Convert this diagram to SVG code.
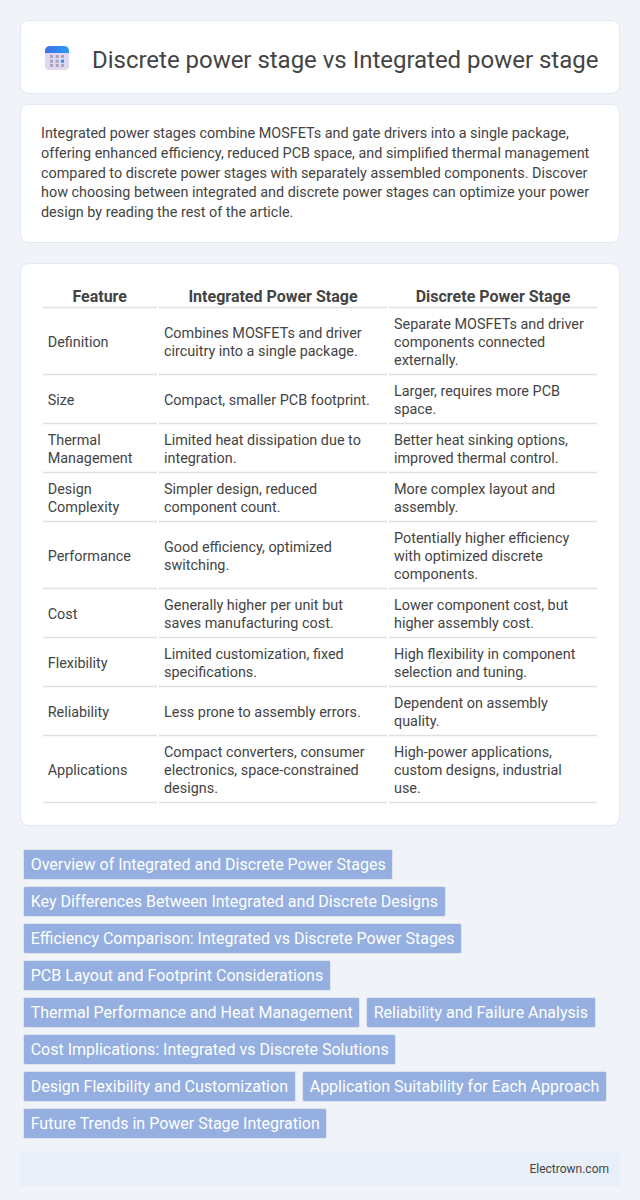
<svg xmlns="http://www.w3.org/2000/svg" width="640" height="1200" viewBox="0 0 640 1200">
<defs><linearGradient id="ic" x1="0" y1="0" x2="1" y2="0"><stop offset="0" stop-color="#3f6fe8"/><stop offset="1" stop-color="#2a9df4"/></linearGradient></defs>
<style>
text{font-family:Roboto,"Liberation Sans",sans-serif;fill:#444}
.card{fill:#fff;stroke:#e2e8f3;stroke-width:1}
.b{font-size:14.4px}
.c{font-size:14.4px;fill:#444}
.h{font-size:16px;font-weight:700;text-anchor:middle}
.l{stroke:#e0e0e0;stroke-width:1.5;fill:none}
.tr{fill:#94afe0;stroke:#dfe3ec;stroke-width:1}
.t{font-size:16px;fill:#fff}
.d{fill:#a9a3bd}
</style>
<rect width="640" height="1200" fill="#f0f4f9"/>
<g id="header">
<rect class="card" x="20.5" y="20.5" width="599" height="73" rx="8"/>
<rect x="45" y="46" width="24" height="24" rx="4" fill="#e0d8ee"/>
<path d="M45 51a5 5 0 0 1 5-5h14a5 5 0 0 1 5 5v2H45z" fill="url(#ic)"/>
<g class="d"><rect x="50" y="55" width="3" height="3"/><rect x="55.7" y="55" width="3" height="3"/><rect x="61" y="55" width="3" height="3"/><rect x="50" y="59.7" width="3" height="3"/><rect x="55.7" y="59.7" width="3" height="3"/><rect x="61" y="59.7" width="3" height="3" fill="#2a8df4"/><rect x="50" y="64" width="3" height="3"/><rect x="55.7" y="64" width="3" height="3"/><rect x="61" y="64" width="3" height="3"/></g>
<text x="92" y="68" font-size="24" letter-spacing="-0.02">Discrete power stage vs Integrated power stage</text>
</g>
<g id="intro">
<rect class="card" x="20.5" y="104.5" width="599" height="138" rx="8"/>
<text class="b" x="41" y="138">Integrated power stages combine MOSFETs and gate drivers into a single package,</text>
<text class="b" x="41" y="158">offering enhanced efficiency, reduced PCB space, and simplified thermal management</text>
<text class="b" x="41" y="178">compared to discrete power stages with separately assembled components. Discover</text>
<text class="b" x="41" y="197">how choosing between integrated and discrete power stages can optimize your power</text>
<text class="b" x="41" y="217">design by reading the rest of the article.</text>
</g>
<g id="table">
<rect class="card" x="20.5" y="263.5" width="599" height="562" rx="8"/>
<text class="h" x="99.7" y="302">Feature</text><text class="h" x="273" y="302">Integrated Power Stage</text><text class="h" x="493" y="302">Discrete Power Stage</text>
<path class="l" d="M43 307.5H157M159 307.5H387M389 307.5H597M43 374.5H157M159 374.5H387M389 374.5H597M43 423.5H157M159 423.5H387M389 423.5H597M43 472.5H157M159 472.5H387M389 472.5H597M43 521.5H157M159 521.5H387M389 521.5H597M43 588.5H157M159 588.5H387M389 588.5H597M43 637.5H157M159 637.5H387M389 637.5H597M43 686.5H157M159 686.5H387M389 686.5H597M43 735.5H157M159 735.5H387M389 735.5H597M43 802.5H157M159 802.5H387M389 802.5H597"/>
<text class="c" x="47.7" y="347">Definition</text><text class="c" x="164" y="338">Combines MOSFETs and driver</text><text class="c" x="164" y="356">circuitry into a single package.</text><text class="c" x="394" y="329">Separate MOSFETs and driver</text><text class="c" x="394" y="347">components connected</text><text class="c" x="394" y="365">externally.</text>
<text class="c" x="47.7" y="405">Size</text><text class="c" x="164" y="405">Compact, smaller PCB footprint.</text><text class="c" x="394" y="396">Larger, requires more PCB</text><text class="c" x="394" y="414">space.</text>
<text class="c" x="47.7" y="445">Thermal</text><text class="c" x="47.7" y="463">Management</text><text class="c" x="164" y="445">Limited heat dissipation due to</text><text class="c" x="164" y="463">integration.</text><text class="c" x="394" y="445">Better heat sinking options,</text><text class="c" x="394" y="463">improved thermal control.</text>
<text class="c" x="47.7" y="494">Design</text><text class="c" x="47.7" y="512">Complexity</text><text class="c" x="164" y="494">Simpler design, reduced</text><text class="c" x="164" y="512">component count.</text><text class="c" x="394" y="494">More complex layout and</text><text class="c" x="394" y="512">assembly.</text>
<text class="c" x="47.7" y="561">Performance</text><text class="c" x="164" y="552">Good efficiency, optimized</text><text class="c" x="164" y="570">switching.</text><text class="c" x="394" y="543">Potentially higher efficiency</text><text class="c" x="394" y="561">with optimized discrete</text><text class="c" x="394" y="579">components.</text>
<text class="c" x="47.7" y="619">Cost</text><text class="c" x="164" y="610">Generally higher per unit but</text><text class="c" x="164" y="628">saves manufacturing cost.</text><text class="c" x="394" y="610">Lower component cost, but</text><text class="c" x="394" y="628">higher assembly cost.</text>
<text class="c" x="47.7" y="668">Flexibility</text><text class="c" x="164" y="659">Limited customization, fixed</text><text class="c" x="164" y="677">specifications.</text><text class="c" x="394" y="659">High flexibility in component</text><text class="c" x="394" y="677">selection and tuning.</text>
<text class="c" x="47.7" y="717">Reliability</text><text class="c" x="164" y="717">Less prone to assembly errors.</text><text class="c" x="394" y="708">Dependent on assembly</text><text class="c" x="394" y="726">quality.</text>
<text class="c" x="47.7" y="775">Applications</text><text class="c" x="164" y="757">Compact converters, consumer</text><text class="c" x="164" y="775">electronics, space-constrained</text><text class="c" x="164" y="793">designs.</text><text class="c" x="394" y="757">High-power applications,</text><text class="c" x="394" y="775">custom designs, industrial</text><text class="c" x="394" y="793">use.</text>
</g>
<g id="tag1"><rect class="tr" x="23.5" y="849.5" width="369" height="30" rx="2"/><text class="t" x="30.7" y="870">Overview of Integrated and Discrete Power Stages</text></g>
<g id="tag2"><rect class="tr" x="23.5" y="886.5" width="422" height="30" rx="2"/><text class="t" x="30.7" y="907">Key Differences Between Integrated and Discrete Designs</text></g>
<g id="tag3"><rect class="tr" x="23.5" y="923.5" width="438" height="30" rx="2"/><text class="t" x="30.7" y="944">Efficiency Comparison: Integrated vs Discrete Power Stages</text></g>
<g id="tag4"><rect class="tr" x="23.5" y="960.5" width="307" height="30" rx="2"/><text class="t" x="30.7" y="981">PCB Layout and Footprint Considerations</text></g>
<g id="tag5"><rect class="tr" x="23.5" y="997.5" width="336" height="30" rx="2"/><text class="t" x="30.7" y="1018">Thermal Performance and Heat Management</text></g>
<g id="tag6"><rect class="tr" x="366.5" y="997.5" width="229" height="30" rx="2"/><text class="t" x="373.7" y="1018">Reliability and Failure Analysis</text></g>
<g id="tag7"><rect class="tr" x="23.5" y="1034.5" width="372" height="30" rx="2"/><text class="t" x="30.7" y="1055">Cost Implications: Integrated vs Discrete Solutions</text></g>
<g id="tag8"><rect class="tr" x="23.5" y="1071.5" width="272" height="30" rx="2"/><text class="t" x="30.7" y="1092">Design Flexibility and Customization</text></g>
<g id="tag9"><rect class="tr" x="302.5" y="1071.5" width="304" height="30" rx="2"/><text class="t" x="309.7" y="1092">Application Suitability for Each Approach</text></g>
<g id="tag10"><rect class="tr" x="23.5" y="1108.5" width="303" height="30" rx="2"/><text class="t" x="30.7" y="1129">Future Trends in Power Stage Integration</text></g>
<g id="footer"><rect x="20" y="1152" width="600" height="34" fill="#e8eff8"/><text x="609" y="1173" font-size="12" text-anchor="end">Electrown.com</text></g>
</svg>
